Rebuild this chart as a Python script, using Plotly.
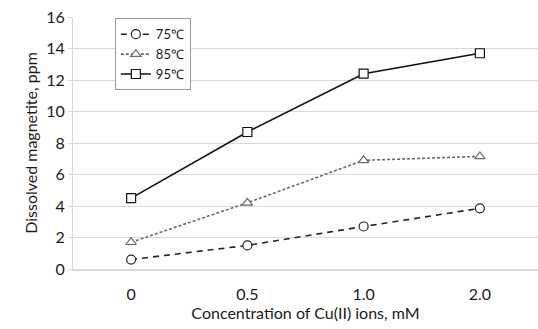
import plotly.graph_objects as go

categories = ["0", "0.5", "1.0", "2.0"]
temps = ["75℃", "85℃", "95℃"]
values_75 = [0.6, 1.5, 2.7, 3.85]
values_85 = [1.7, 4.2, 6.9, 7.15]
values_95 = [4.5, 8.7, 12.4, 13.7]
y_ticks = [0, 2, 4, 6, 8, 10, 12, 14, 16]

FONT = "Lato"

styles = [
    dict(symbol="circle", color="#222222", dash="6px,5px", width=1.6),
    dict(symbol="triangle-up", color="#6a6a6a", dash="3px,2px", width=1.6),
    dict(symbol="square", color="#111111", dash="solid", width=1.6),
]

fig = go.Figure()
for name, vals, st in zip(temps, [values_75, values_85, values_95], styles):
    fig.add_trace(go.Scatter(
        x=categories, y=vals, name=name, mode="lines+markers",
        line=dict(color=st["color"], width=st["width"], dash=st["dash"]),
        marker=dict(symbol=st["symbol"], size=9, color="white",
                    line=dict(color=st["color"], width=1.2)),
    ))

fig.update_layout(
    width=538, height=329,
    margin=dict(l=73, r=0, t=17, b=60),
    paper_bgcolor="white", plot_bgcolor="white",
    font=dict(family=FONT, size=16, color="#1a1a1a"),
    showlegend=True,
    legend=dict(
        x=0.09, y=0.995, xanchor="left", yanchor="top",
        bgcolor="white", bordercolor="#999999", borderwidth=1,
        font=dict(size=13), itemwidth=30,
    ),
    xaxis=dict(
        type="category", range=[-0.5, 3.5],
        showgrid=False, showline=True, linecolor="#d9d9d9", linewidth=2,
        ticks="", tickfont=dict(size=16), ticklabelstandoff=10,
        title=dict(text="Concentration of Cu(II) ions, mM", font=dict(size=16), standoff=0),
    ),
    yaxis=dict(
        range=[0, 16], tickvals=y_ticks,
        showgrid=True, gridcolor="#d9d9d9", gridwidth=1,
        showline=True, linecolor="#d9d9d9", linewidth=1,
        ticks="outside", ticklen=4, tickcolor="#d9d9d9",
        tickfont=dict(size=16), zeroline=False,
        title=dict(text="Dissolved magnetite, ppm", font=dict(size=16), standoff=4),
    ),
)

fig.write_html("out.html")
